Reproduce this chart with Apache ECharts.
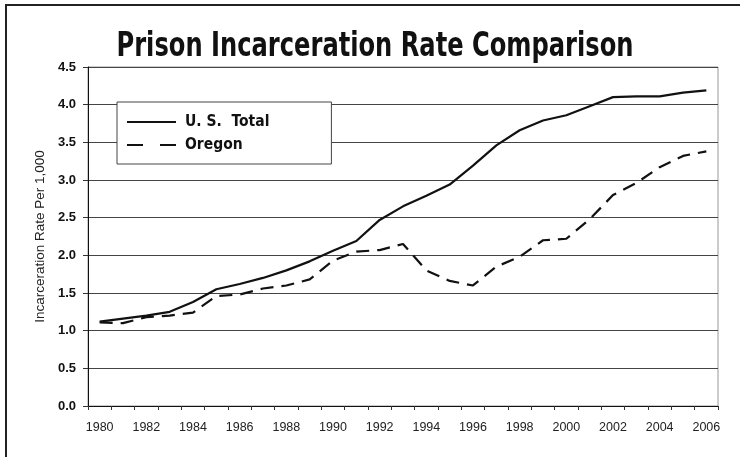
<!DOCTYPE html>
<html>
<head>
<meta charset="utf-8">
<script src="https://cdn.jsdelivr.net/npm/echarts@6/dist/echarts.min.js"></script>
<style>
html,body{margin:0;padding:0;background:#fff;}
#frame{position:absolute;left:5px;top:4px;width:740px;height:460px;border-left:2px solid #222;border-top:2px solid #222;box-sizing:border-box;}
#c{position:absolute;left:0;top:0;width:740px;height:457px;}
</style>
</head>
<body>
<div id="frame"></div>
<div id="c"></div>
<script>
const years = ['1980','1981','1982','1983','1984','1985','1986','1987','1988','1989','1990','1991','1992','1993','1994','1995','1996','1997','1998','1999','2000','2001','2002','2003','2004','2005','2006'];
const usTotal = [1.12,1.16,1.20,1.25,1.38,1.55,1.62,1.70,1.80,1.92,2.06,2.19,2.47,2.65,2.79,2.94,3.19,3.46,3.66,3.79,3.86,3.98,4.10,4.11,4.11,4.16,4.19];
const oregon = [1.11,1.10,1.18,1.20,1.24,1.46,1.48,1.56,1.60,1.68,1.93,2.05,2.07,2.15,1.80,1.66,1.60,1.85,1.98,2.20,2.22,2.48,2.80,2.96,3.17,3.32,3.38];
const seriesNames = ['U. S.  Total', 'Oregon'];
const titleText = 'Prison Incarceration Rate Comparison';

const condensed = "'DejaVu Sans Condensed', 'Liberation Sans Narrow', sans-serif";
const chart = echarts.init(document.getElementById('c'), null, {renderer:'canvas'});
chart.setOption({
  backgroundColor: 'transparent',
  animation: false,
  graphic: [{
    type: 'text',
    x: 375, y: 47,
    scaleX: 0.79,
    style: {text: titleText, font: "bold 34px 'DejaVu Sans Condensed', sans-serif", fill: '#111', align: 'center', verticalAlign: 'middle'}
  }],
  grid: {left: 88, right: 22, top: 67, bottom: 51, show: true, borderColor: '#999', borderWidth: 1},
  legend: {
    orient: 'vertical',
    left: 117,
    top: 102,
    padding: [11, 62, 10, 10],
    itemGap: 5,
    itemWidth: 49,
    itemHeight: 2.2,
    backgroundColor: '#fff',
    borderColor: '#444',
    borderWidth: 1,
    textStyle: {fontFamily: condensed, fontWeight: 'bold', fontSize: 15.5, color: '#111', padding: [0, 0, 0, 4], lineHeight: 18},
    data: [
      {name: seriesNames[0], icon: 'path://M0,0 H49 V2.2 H0 Z'},
      {name: seriesNames[1], icon: 'path://M0,0 H16 V2.2 H0 Z M33,0 H49 V2.2 H33 Z'}
    ]
  },
  xAxis: {
    type: 'category',
    data: years,
    boundaryGap: true,
    axisLine: {lineStyle: {color: '#111', width: 1}},
    axisTick: {show: true, interval: 0, length: 4, lineStyle: {color: '#333'}},
    axisLabel: {interval: 1, margin: 15, fontFamily: "'Liberation Sans', Arial, sans-serif", fontSize: 12.5, color: '#222'},
    splitLine: {show: false}
  },
  yAxis: {
    type: 'value',
    min: 0, max: 4.5, interval: 0.5,
    name: 'Incarceration Rate Per 1,000',
    nameLocation: 'middle',
    nameGap: 41,
    nameRotate: 90,
    nameTextStyle: {fontFamily: "'Liberation Sans', Arial, sans-serif", fontSize: 13.5, color: '#222'},
    axisLine: {show: true, lineStyle: {color: '#111', width: 1}},
    axisTick: {show: true, length: 5, lineStyle: {color: '#333'}},
    axisLabel: {margin: 12, fontFamily: "'Liberation Sans', Arial, sans-serif", fontWeight: 'bold', fontSize: 13, color: '#111', formatter: v => v.toFixed(1)},
    splitLine: {show: true, lineStyle: {color: '#444', width: 1}}
  },
  series: [
    {name: seriesNames[0], type: 'line', data: usTotal, symbol: 'none', lineStyle: {color: '#111', width: 2.2, type: 'solid'}, itemStyle:{color:'#111'}},
    {name: seriesNames[1], type: 'line', data: oregon, symbol: 'none', lineStyle: {color: '#111', width: 2.2, type: [13, 8]}, itemStyle:{color:'#111'}}
  ]
});
</script>
</body>
</html>
